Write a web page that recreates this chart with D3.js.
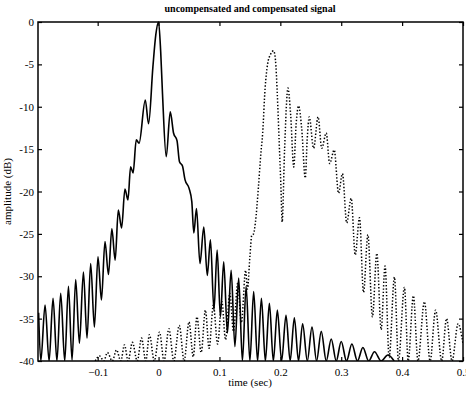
<!DOCTYPE html>
<html>
<head>
<meta charset="utf-8">
<script src="https://d3js.org/d3.v7.min.js"></script>
<style>
body { margin: 0; background: #fff; }
text { font-family: "Liberation Serif", "DejaVu Serif", serif; fill: #000; }
</style>
</head>
<body>
<script>
// compensated signal (solid): time in sec, amplitude in dB
var solidT = [-0.197, -0.1934, -0.1864, -0.1798, -0.1733, -0.1669, -0.1607, -0.1541, -0.1480, -0.1421,
    -0.1361, -0.1300, -0.1234, -0.1175, -0.1115, -0.1054, -0.0995, -0.0938, -0.0880, -0.0823,
    -0.0767, -0.0713, -0.0661, -0.0607, -0.0552, -0.0503, -0.0459, -0.0418, -0.0366, -0.0320,
    -0.0218, -0.0164, -0.0093, -0.0045, 0, 0.0035, 0.0065, 0.0126, 0.0192, 0.0246,
    0.0303, 0.0344, 0.0393, 0.0434, 0.0500, 0.0546, 0.0579, 0.0623, 0.0680, 0.0743,
    0.0800, 0.0852, 0.0910, 0.0962, 0.1016, 0.1070, 0.1131, 0.1192, 0.1254, 0.1316,
    0.1377, 0.1438, 0.1500, 0.1562, 0.1626, 0.1689, 0.1754, 0.1820, 0.1885, 0.1951,
    0.2021, 0.2093, 0.2161, 0.2230, 0.2298, 0.2366, 0.2443, 0.2520, 0.2595, 0.2672,
    0.2754, 0.2836, 0.2918, 0.3000, 0.3087, 0.3175, 0.3266, 0.3356, 0.3451, 0.3546,
    0.3656, 0.3766, 0.3869];
var solidDb = [-34.3, -40, -33.4, -40, -32.6, -40, -32.0, -40, -31.2, -39.9,
    -30.4, -37.9, -29.5, -37.3, -28.5, -36.0, -27.7, -32.8, -25.9, -29.8,
    -24.4, -28.1, -22.2, -24.3, -19.7, -21.0, -17.1, -17.8, -13.9, -14.3,
    -9.2, -12.0, -5.3, -1.5, 0, -3.5, -8.5, -15.9, -10.6, -13.1,
    -14.0, -16.5, -17.0, -18.6, -19.6, -21.2, -24.9, -22.0, -28.5, -24.2,
    -29.9, -25.7, -34.0, -26.9, -34.8, -28.3, -36.7, -29.3, -38.3, -30.2,
    -40, -31.2, -40, -31.8, -40, -32.6, -40, -33.2, -40, -34.0,
    -40, -34.6, -40, -34.9, -40, -35.6, -40, -36.0, -40, -36.5,
    -40, -37.4, -40, -37.7, -40, -38.0, -40, -38.4, -40, -38.9,
    -40, -39.3, -40];

// uncompensated signal (dotted)
var dottedT = [-0.104, -0.097, -0.090, -0.084, -0.076, -0.069, -0.062, -0.056, -0.050, -0.043,
    -0.035, -0.028, -0.021, -0.015, -0.007, 0.0016, 0.009, 0.017, 0.025, 0.034,
    0.042, 0.050, 0.057, 0.063, 0.070, 0.077, 0.083, 0.090, 0.097, 0.104,
    0.110, 0.117, 0.123, 0.130, 0.136, 0.143, 0.146, 0.150, 0.153, 0.156,
    0.159, 0.164, 0.168, 0.171, 0.175, 0.179, 0.184, 0.189, 0.192, 0.195,
    0.198, 0.201, 0.203, 0.207, 0.2125, 0.217, 0.222, 0.226, 0.230, 0.235,
    0.241, 0.244, 0.2475, 0.2546, 0.262, 0.268, 0.2754, 0.281, 0.2885, 0.2956,
    0.302, 0.309, 0.3164, 0.323, 0.330, 0.3366, 0.3438, 0.3513, 0.3585, 0.3656,
    0.372, 0.3787, 0.3874, 0.394, 0.4038, 0.410, 0.4185, 0.426, 0.4366, 0.446,
    0.455, 0.465, 0.473, 0.482, 0.492, 0.5];
var dottedDb = [-40, -39.4, -40, -39.0, -40, -38.7, -40, -38.1, -40, -37.8,
    -40, -37.3, -40, -36.9, -40, -36.6, -40, -36.2, -40, -35.8,
    -40, -35.4, -39.5, -34.8, -39.0, -34.0, -38.5, -33.4, -38.0, -33.0,
    -37.5, -32.0, -36.5, -30.8, -35.5, -29.3, -31.5, -27.7, -25.2, -25.0,
    -23.7, -19.5, -15.5, -13.1, -7.8, -5.0, -3.8, -3.4, -4.5, -8.5,
    -14.0, -19.5, -23.6, -15.0, -7.8, -11.0, -17.1, -12.0, -9.9, -12.5,
    -18.4, -14.0, -11.2, -14.9, -11.2, -14.9, -13.1, -16.7, -15.1, -20.2,
    -17.9, -23.7, -20.8, -27.5, -23.1, -31.9, -25.1, -34.8, -27.3, -36.3,
    -28.8, -39.6, -30.1, -40, -31.3, -40, -32.3, -40, -33.0, -40,
    -34.0, -40, -35.0, -40, -35.6, -38.0];

var xTicks = [-0.1, 0, 0.1, 0.2, 0.3, 0.4, 0.5];
var yTicks = [0, -5, -10, -15, -20, -25, -30, -35, -40];

var W = 466, H = 393;
var plotL = 38, plotR = 463, plotT = 22, plotB = 361;

var x = d3.scaleLinear().domain([-0.198, 0.5]).range([plotL, plotR]);
var y = d3.scaleLinear().domain([-40, 0]).range([plotB, plotT]);

var svg = d3.select("body").append("svg")
    .attr("width", W)
    .attr("height", H);

svg.append("defs").append("clipPath")
    .attr("id", "clip")
    .append("rect")
    .attr("x", plotL)
    .attr("y", plotT - 1)
    .attr("width", plotR - plotL)
    .attr("height", plotB - plotT + 1);

var line = d3.line()
    .x(function (d) { return x(d[0]); })
    .y(function (d) { return y(d[1]); })
    .curve(d3.curveMonotoneX);

var plot = svg.append("g").attr("clip-path", "url(#clip)");

plot.append("path")
    .datum(dottedT.map(function (t, i) { return [t, dottedDb[i]]; }))
    .attr("d", line)
    .attr("fill", "none")
    .attr("stroke", "#000")
    .attr("stroke-width", 1.5)
    .attr("stroke-dasharray", "1.4,1.9");

plot.append("path")
    .datum(solidT.map(function (t, i) { return [t, solidDb[i]]; }))
    .attr("d", line)
    .attr("fill", "none")
    .attr("stroke", "#000")
    .attr("stroke-width", 1.6)
    .attr("stroke-linejoin", "round");

// axes, ticks pointing inward on all four sides
svg.append("g")
    .attr("transform", "translate(0," + plotB + ")")
    .call(d3.axisBottom(x).tickValues(xTicks).tickSize(-4).tickPadding(7)
        .tickFormat(function (d) { return d === 0 ? "0" : d3.format(".1f")(d); }))
    .call(function (g) { g.select(".domain").remove(); });

svg.append("g")
    .attr("transform", "translate(0," + plotT + ")")
    .call(d3.axisTop(x).tickValues(xTicks).tickSize(-4).tickFormat(""))
    .call(function (g) { g.select(".domain").remove(); });

svg.append("g")
    .attr("transform", "translate(" + plotL + ",0)")
    .call(d3.axisLeft(y).tickValues(yTicks).tickSize(-4).tickPadding(4)
        .tickFormat(function (d) { return d; }))
    .call(function (g) { g.select(".domain").remove(); });

svg.append("g")
    .attr("transform", "translate(" + plotR + ",0)")
    .call(d3.axisRight(y).tickValues(yTicks).tickSize(-4).tickFormat(""))
    .call(function (g) { g.select(".domain").remove(); });

svg.selectAll(".tick text")
    .style("font-family", "'Liberation Serif', serif")
    .style("font-size", "11px");
svg.selectAll(".tick line").attr("stroke", "#000").attr("stroke-width", 1.2);

svg.append("rect")
    .attr("x", plotL)
    .attr("y", plotT)
    .attr("width", plotR - plotL)
    .attr("height", plotB - plotT)
    .attr("fill", "none")
    .attr("stroke", "#000")
    .attr("stroke-width", 1.5);

svg.append("text")
    .attr("x", 250)
    .attr("y", 12)
    .attr("text-anchor", "middle")
    .style("font-size", "10px")
    .style("font-weight", "bold")
    .text("uncompensated and compensated signal");

svg.append("text")
    .attr("x", 250)
    .attr("y", 386)
    .attr("text-anchor", "middle")
    .style("font-size", "11px")
    .text("time (sec)");

svg.append("text")
    .attr("transform", "translate(11," + ((plotT + plotB) / 2) + ") rotate(-90)")
    .attr("text-anchor", "middle")
    .style("font-size", "11px")
    .text("amplitude (dB)");
</script>
</body>
</html>
